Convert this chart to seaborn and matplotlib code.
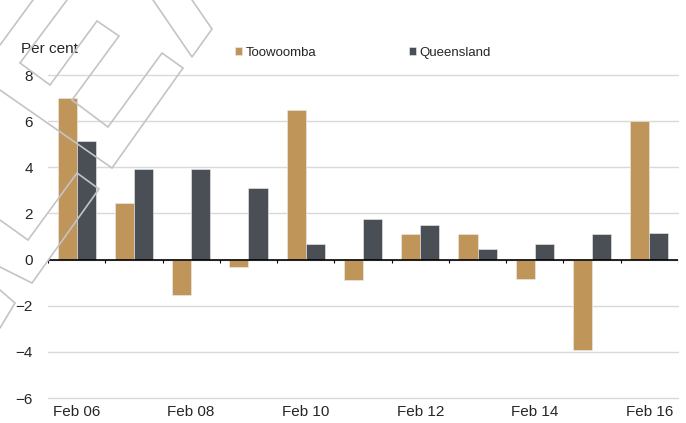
import numpy as np
import pandas as pd
import matplotlib
matplotlib.use('Agg')
import matplotlib.pyplot as plt
from matplotlib.lines import Line2D
import seaborn as sns

# Data (annual % change)
periods = ['Feb 06', 'Feb 07', 'Feb 08', 'Feb 09', 'Feb 10', 'Feb 11',
           'Feb 12', 'Feb 13', 'Feb 14', 'Feb 15', 'Feb 16']
toowoomba = [7.0, 2.46, -1.52, -0.34, 6.48, -0.89, 1.13, 1.09, -0.85, -3.90, 6.0]
queensland = [5.15, 3.93, 3.93, 3.12, 0.66, 1.78, 1.48, 0.44, 0.66, 1.10, 1.15]
series_names = ['Toowoomba', 'Queensland']
colours = ['#BF955A', '#4A4E55']

df = pd.DataFrame({
    'period': periods * 2,
    'region': [series_names[0]] * len(periods) + [series_names[1]] * len(periods),
    'value': toowoomba + queensland,
})

sns.set_style('white')
plt.rcParams['font.family'] = ['Liberation Sans', 'DejaVu Sans']

W, H = 686, 423
fig = plt.figure(figsize=(W / 100, H / 100), dpi=100)
ax = fig.add_axes([48 / W, 1 - 398 / H, 630 / W, 323 / H])

sns.barplot(data=df, x='period', y='value', hue='region', order=periods,
            hue_order=series_names, palette=colours, saturation=1, width=0.667,
            edgecolor='#eeeeee', linewidth=0.4, ax=ax, zorder=3)

ax.set_ylim(-6, 8)
ax.set_yticks(np.arange(-6, 9, 2))
ax.set_xlim(-0.5, len(periods) - 0.5)
ax.set_xticks(range(0, len(periods), 2))
ax.set_xticklabels(periods[::2])
ax.set_xlabel('')
ax.set_ylabel('')
ax.tick_params(axis='x', length=0, pad=5, labelsize=11)
ax.tick_params(axis='y', length=0, pad=11, labelsize=11)

for s in ax.spines.values():
    s.set_visible(False)
ax.set_axisbelow(True)
ax.yaxis.grid(True, color='#d9d9d9', lw=1)
for gl in ax.get_ygridlines():
    gl.set_clip_on(False)
ax.axhline(0, color='black', lw=1.2, zorder=4)
ax.vlines(np.arange(-0.5, len(periods), 1), 0, -0.17, color='black', lw=0.8, zorder=4)

fig.text(21 / W, 1 - 49 / H, 'Per cent', ha='left', va='center', fontsize=11)

handles, labels = ax.get_legend_handles_labels()
ax.legend(handles, labels, ncol=2, frameon=False, loc='center left',
          bbox_to_anchor=(235 / W, 1 - 53 / H), bbox_transform=fig.transFigure,
          fontsize=9.5, handlelength=0.55, handleheight=0.55, handletextpad=0.25,
          columnspacing=7.0, borderpad=0, borderaxespad=0)

# watermark outline (pixel coordinates on the figure)
watermark = [
    [(33, 0), (0, 45)],
    [(67, 0), (20, 63), (50, 85), (97, 21), (119, 36), (72, 100), (108, 127),
     (162, 53), (183, 68), (112, 168), (0, 90)],
    [(153, 0), (192, 57), (212, 29), (192, 0)],
    [(0, 220), (28, 240), (77, 173), (99, 189), (32, 283), (0, 267)],
    [(0, 290), (15, 303), (0, 328)],
]
for pts in watermark:
    xs = [p[0] / W for p in pts]
    ys = [1 - p[1] / H for p in pts]
    fig.add_artist(Line2D(xs, ys, transform=fig.transFigure, color='#c4c4c4',
                          lw=1.2, zorder=10, solid_joinstyle='miter'))

fig.savefig('out.png', dpi=100)
